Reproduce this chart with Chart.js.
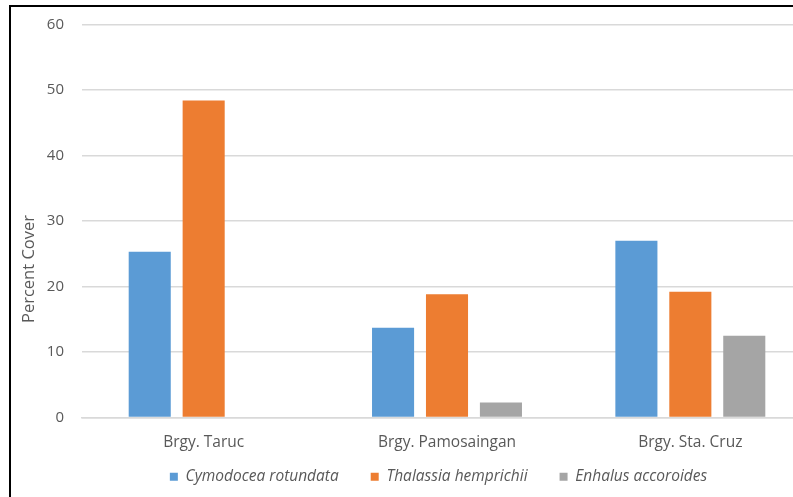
<!DOCTYPE html>
<html>
<head>
<meta charset="utf-8">
<script src="https://cdn.jsdelivr.net/npm/chart.js@4/dist/chart.umd.min.js"></script>
<style>
  html, body { margin: 0; padding: 0; background: #fff; width: 793px; height: 497px; overflow: hidden; }
  #frame { position: absolute; left: 9px; top: 5px; width: 900px; height: 600px; border-left: 2px solid #000; border-top: 2px solid #000; }
  #c { position: absolute; left: 11px; top: 7px; }
</style>
</head>
<body>
<div id="frame"></div>
<canvas id="c" width="801" height="490"></canvas>
<script>
const categories = ['Brgy. Taruc', 'Brgy. Pamosaingan', 'Brgy. Sta. Cruz'];
const cymodocea = [25.3, 13.7, 27.0];
const thalassia = [48.4, 18.8, 19.2];
const enhalus = [0, 2.3, 12.5];
const seriesNames = ['Cymodocea rotundata', 'Thalassia hemprichii', 'Enhalus accoroides'];
const yTicks = [0, 10, 20, 30, 40, 50, 60];
const yTitle = 'Percent Cover';

const FONT = '"Open Sans", Lato, sans-serif';
const TXT = '#595959';
const LEGEND_H = 45, LEGEND_DX = 27, LEGEND_DY = -15;

// Legend: wider horizontal gaps than vertical in the reference; shift to the Excel legend position
const LegendEl = Chart.Legend._element;
const origFit = LegendEl.prototype.fit;
LegendEl.prototype.fit = function () {
  origFit.call(this);
  if (this.isHorizontal()) { this.height = LEGEND_H; }
};
const drawName = typeof LegendEl.prototype._draw === 'function' ? '_draw' : 'draw';
const origDraw = LegendEl.prototype[drawName];
LegendEl.prototype[drawName] = function () {
  const ctx = this.ctx;
  ctx.save();
  ctx.translate(LEGEND_DX, LEGEND_DY);
  origDraw.apply(this, arguments);
  ctx.restore();
};

const yTitlePlugin = {
  id: 'yTitle',
  afterDraw(chart) {
    const ctx = chart.ctx;
    ctx.save();
    ctx.translate(18, 262);
    ctx.rotate(-Math.PI / 2);
    ctx.fillStyle = TXT;
    ctx.font = '16.5px ' + FONT;
    ctx.textAlign = 'center';
    ctx.textBaseline = 'middle';
    ctx.fillText(yTitle, 0, 0);
    ctx.restore();
  }
};

new Chart(document.getElementById('c'), {
  type: 'bar',
  data: {
    labels: categories,
    datasets: [
      { label: seriesNames[0], data: cymodocea, backgroundColor: '#5B9BD5' },
      { label: seriesNames[1], data: thalassia, backgroundColor: '#ED7D31' },
      { label: seriesNames[2], data: enhalus, backgroundColor: '#A5A5A5' }
    ]
  },
  plugins: [yTitlePlugin],
  options: {
    responsive: false,
    animation: false,
    devicePixelRatio: 1,
    layout: { padding: { top: 17.5, right: 0, left: 0, bottom: 0 } },
    datasets: { bar: { categoryPercentage: 0.665, barPercentage: 0.78 } },
    plugins: {
      tooltip: { enabled: false },
      legend: {
        position: 'bottom',
        labels: {
          boxWidth: 8, boxHeight: 8, padding: 32,
          color: TXT,
          font: { family: FONT, size: 15.5, style: 'italic' }
        }
      }
    },
    scales: {
      x: {
        afterFit: (s) => { s.height = 34.5; s.paddingLeft = 0; s.paddingRight = 0; },
        grid: { display: false, drawTicks: false },
        border: { display: true, color: '#D9D9D9', width: 1.5 },
        ticks: { color: TXT, font: { family: FONT, size: 15.5 }, padding: 16 }
      },
      y: {
        min: 0, max: 60,
        afterBuildTicks: (s) => { s.ticks = yTicks.map(v => ({ value: v })); },
        afterFit: (s) => { s.width = 71; s.paddingTop = 0; s.paddingBottom = 0; },
        grid: { color: '#D9D9D9', lineWidth: 1.5, drawTicks: false },
        border: { display: false },
        ticks: { color: TXT, font: { family: FONT, size: 15 }, padding: 18 },
        title: { display: false }
      }
    }
  }
});
</script>
</body>
</html>
